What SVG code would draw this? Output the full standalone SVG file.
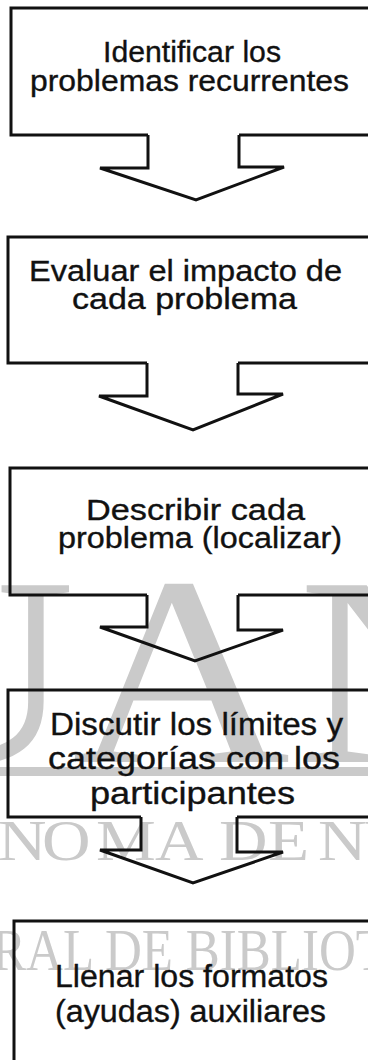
<svg xmlns="http://www.w3.org/2000/svg" width="368" height="1060" viewBox="0 0 368 1060">
<style>
.wm{fill:#cacaca;font-family:"Liberation Serif","Times New Roman",serif}
.box{fill:none;stroke:#111;stroke-width:3;stroke-linejoin:miter}
.arrow{fill:none;stroke:#111;stroke-width:3;stroke-linejoin:miter}
.t{fill:#111;font-family:"Liberation Sans",Arial,sans-serif;stroke:#111;stroke-width:0.35}
</style>
<rect width="368" height="1060" fill="#fff"/>
<g id="watermark">
<text class="wm" font-size="270" transform="translate(-143,762) scale(1.12,1)">U</text>
<text class="wm" font-size="270" transform="translate(72,762) scale(1.12,1)">A</text>
<text class="wm" font-size="270" transform="translate(298,762) scale(1.12,1)">N</text>
<rect x="0" y="767" width="368" height="9" fill="#cacaca"/>
<text class="wm" transform="translate(0,860) scale(1.2,1)" x="-1.7 35 80 129.2 170 182.5 223.3 255 265 303.3" y="0" font-size="56">NOMA DE NU</text>
<text class="wm" x="-8" y="970" font-size="60" textLength="395" lengthAdjust="spacingAndGlyphs">RAL DE BIBLIOT</text>
</g>
<g id="node1">
<path class="box" d="M372 8 H11 V135 H148 M239 135 H372"/>
<text class="t" x="103" y="62" font-size="30" textLength="178" lengthAdjust="spacingAndGlyphs">Identificar los</text>
<text class="t" x="30" y="91" font-size="30" textLength="319" lengthAdjust="spacingAndGlyphs">problemas recurrentes</text>
</g>
<g id="node2">
<path class="box" d="M372 237 H8 V363 H147 M238 363 H372"/>
<text class="t" x="29" y="281" font-size="29" textLength="313" lengthAdjust="spacingAndGlyphs">Evaluar el impacto de</text>
<text class="t" x="72" y="309" font-size="29" textLength="225" lengthAdjust="spacingAndGlyphs">cada problema</text>
</g>
<g id="node3">
<path class="box" d="M372 468 H10 V595 H147 M238 595 H372"/>
<text class="t" x="86" y="520" font-size="29" textLength="219" lengthAdjust="spacingAndGlyphs">Describir cada</text>
<text class="t" x="58" y="548" font-size="29" textLength="284" lengthAdjust="spacingAndGlyphs">problema (localizar)</text>
</g>
<g id="node4">
<path class="box" d="M372 690 H8 V817 H141 M237 817 H372"/>
<text class="t" x="50" y="735" font-size="31" textLength="293" lengthAdjust="spacingAndGlyphs">Discutir los límites y</text>
<text class="t" x="48" y="769" font-size="31" textLength="292" lengthAdjust="spacingAndGlyphs">categorías con los</text>
<text class="t" x="90" y="804" font-size="31" textLength="205" lengthAdjust="spacingAndGlyphs">participantes</text>
</g>
<g id="node5">
<path class="box" d="M372 921 H14 V1065"/>
<text class="t" x="55" y="987" font-size="31" textLength="273" lengthAdjust="spacingAndGlyphs">Llenar los formatos</text>
<text class="t" x="55" y="1022" font-size="31" textLength="271" lengthAdjust="spacingAndGlyphs">(ayudas) auxiliares</text>
</g>
<g id="connectors">
<path class="arrow" d="M148 135 V168 H100 L196 200 L284 167 H239 V135"/>
<path class="arrow" d="M147 363 V396 H99 L193 430 L283 394 H238 V363"/>
<path class="arrow" d="M147 595 V627 H100 L195 661 L283 630 H238 V595"/>
<path class="arrow" d="M141 817 V850 H100 L193 883 L283 852 H237 V817"/>
</g>
</svg>
